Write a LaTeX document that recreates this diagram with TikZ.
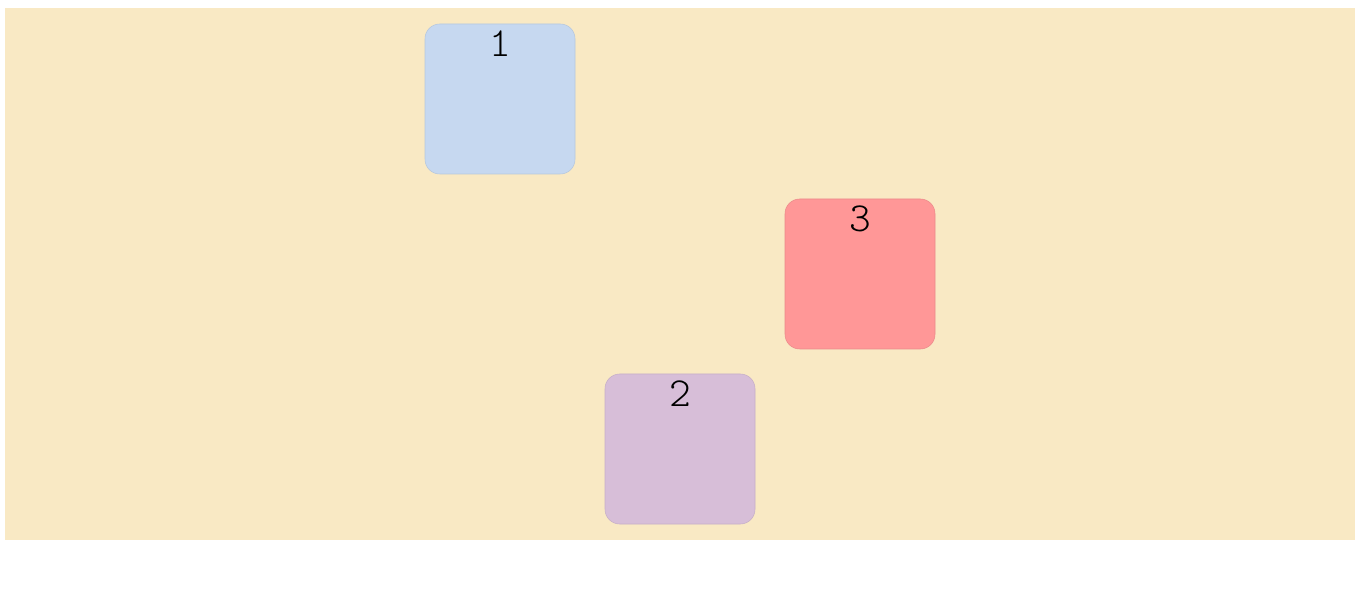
\documentclass[tikz,border=0pt]{standalone}
\usepackage{fontspec}
\usetikzlibrary{positioning}
\definecolor{sandbg}{HTML}{F9E9C4}
\definecolor{boxblue}{HTML}{C6D8F0}
\definecolor{boxred}{HTML}{FF9797}
\definecolor{boxpurple}{HTML}{D7BED8}

\begin{document}
\begin{tikzpicture}[x=0.75pt, y=-0.75pt]
% Define styles
\tikzstyle{panel} = [rectangle, rounded corners=11pt, minimum width=112.5pt, minimum height=112.5pt, inner sep=0pt, text height=24.5pt, text depth=88pt, font=\fontfamily{lmtt}\fontseries{l}\fontsize{31}{31}\selectfont, text centered]
\useasboundingbox (0,0) rectangle (1363,609);
% Background
\fill[sandbg] (5,8) rectangle (1355,540);
% Define nodes (boxes)
\node[panel, fill=boxblue, draw=boxblue!92!black] (boxOne) at (500,99) {1};
\node[panel, fill=boxred, draw=boxred!92!black] (boxThree) at (860,274) {3};
\node[panel, fill=boxpurple, draw=boxpurple!92!black] (boxTwo) at (680,449) {2};
\end{tikzpicture}
\end{document}
